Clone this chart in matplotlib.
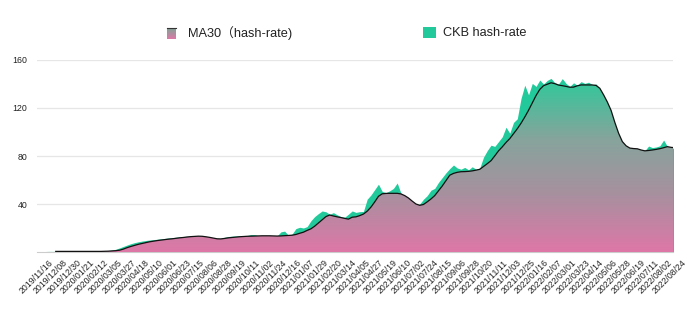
import numpy as np
import pandas as pd
import matplotlib
matplotlib.use("Agg")
import matplotlib.pyplot as plt
import matplotlib.dates as mdates
import matplotlib.transforms as mtransforms
from matplotlib.colors import LinearSegmentedColormap
from matplotlib.patches import Rectangle

plt.rcParams['font.family'] = ['Liberation Sans', 'Noto Sans CJK SC', 'DejaVu Sans']

# values, one sample every 6 days from 2019/11/16
dates = pd.date_range("2019-11-16", periods=171, freq="6D")

ckb_rate = [0.3, 0.4, 0.4, 0.5, 0.5, 0.5, 0.5, 0.6, 0.5, 0.5,
            0.6, 0.5, 0.5, 0.6, 0.5, 0.6, 0.6, 0.7, 0.9, 1.2,
            1.6, 2.3, 3.4, 4.6, 5.8, 6.9, 7.8, 8.5, 9.1, 9.6,
            10.0, 10.3, 10.6, 11.0, 11.3, 11.7, 11.9, 12.3, 12.6, 12.9,
            13.1, 13.3, 13.4, 13.3, 12.9, 12.3, 11.7, 11.0, 10.6, 11.4,
            12.3, 12.9, 13.2, 13.4, 13.6, 13.5, 13.7, 14.6, 14.5, 13.6,
            13.5, 13.4, 13.3, 13.2, 13.4, 16.8, 17.4, 13.9, 15.0, 19.5,
            20.6, 20.0, 21.2, 26.0, 29.5, 32.0, 34.2, 33.5, 31.5, 32.8,
            31.0, 29.5, 29.0, 31.5, 34.2, 33.0, 33.6, 33.8, 44.0, 47.5,
            52.0, 56.5, 50.5, 49.5, 51.0, 53.0, 57.5, 49.0, 46.5, 44.5,
            41.5, 39.0, 40.0, 44.0, 47.0, 51.5, 53.0, 58.0, 62.0, 66.0,
            69.5, 72.5, 70.0, 69.0, 70.5, 68.5, 71.0, 69.0, 70.0, 79.0,
            84.5, 89.0, 88.0, 92.0, 96.0, 104.0, 99.0, 108.0, 111.0, 128.0,
            139.0, 131.0, 140.5, 138.0, 143.3, 140.0, 143.0, 144.7, 141.0, 140.0,
            144.5, 140.5, 138.0, 141.0, 139.0, 142.0, 140.5, 141.5, 139.5, 140.0,
            136.0, 129.0, 120.0, 112.0, 103.0, 95.0, 90.0, 86.5, 85.5, 85.0,
            85.5, 84.0, 84.5, 88.3, 87.0, 87.5, 88.5, 93.3, 88.0, 86.5,
            86.5]

ma30 = [np.nan, np.nan, np.nan, np.nan, np.nan, 0.5, 0.5, 0.5, 0.5, 0.5,
        0.5, 0.5, 0.5, 0.5, 0.5, 0.5, 0.5, 0.5, 0.6, 0.7,
        0.9, 1.1, 1.5, 2.4, 3.6, 4.6, 5.5, 6.4, 7.1, 7.8,
        8.5, 9.0, 9.5, 9.9, 10.3, 10.7, 11.0, 11.4, 11.8, 12.1,
        12.5, 12.8, 13.0, 13.2, 13.1, 12.7, 12.2, 11.6, 11.0, 10.9,
        11.3, 11.8, 12.1, 12.4, 12.7, 12.9, 13.1, 13.2, 13.3, 13.4,
        13.5, 13.5, 13.5, 13.4, 13.3, 13.4, 13.6, 13.8, 14.0, 14.6,
        15.6, 16.5, 18.0, 19.3, 21.5, 24.2, 26.8, 29.5, 30.8, 30.0,
        29.3, 28.7, 28.0, 27.4, 29.0, 29.3, 30.3, 31.6, 34.0, 37.4,
        41.7, 46.4, 48.5, 48.8, 48.9, 48.9, 48.9, 48.4, 47.0, 45.0,
        42.4, 40.0, 38.9, 39.6, 41.8, 44.2, 47.0, 51.0, 55.0, 59.5,
        64.0, 65.5, 66.4, 66.9, 67.0, 67.2, 67.6, 68.2, 68.9, 71.2,
        73.6, 76.1, 80.1, 84.3, 87.6, 91.3, 94.5, 98.6, 102.7, 107.3,
        112.5, 118.1, 124.3, 130.4, 135.5, 138.6, 139.8, 141.0, 140.3, 139.1,
        138.6, 138.0, 137.3, 137.4, 138.5, 139.2, 139.2, 139.2, 139.2, 138.8,
        136.4, 131.0, 125.0, 118.0, 108.0, 99.0, 92.0, 88.5, 86.6, 86.2,
        86.0, 85.0, 84.3, 84.6, 85.0, 85.5, 86.1, 86.9, 87.8, 87.2,
        86.9]

tick_dates = pd.date_range("2019-11-16", "2022-08-24", freq="22D")
tick_labels = [d.strftime("%Y/%m/%d") for d in tick_dates]
y_ticks = [40, 80, 120, 160]

green = "#22c99a"
pink = "#de77a7"
top_green = "#34c79a"

fig = plt.figure(figsize=(6.9, 3.11), dpi=100)
ax = fig.add_axes([37 / 690, 59 / 311, 636 / 690, 192 / 311])

x = mdates.date2num(dates)
ma = np.array(ma30)
x0 = mdates.date2num(pd.Timestamp("2019-11-16"))
x1 = x0 + 1017

ax.fill_between(x, 0, ckb_rate, color=green, linewidth=0, zorder=2)

# gradient area under MA30
poly = ax.fill_between(x, 0, ma, facecolor="none", linewidth=0, zorder=3)
cmap = LinearSegmentedColormap.from_list("ma", [pink, "#a8909f", "#86a49c", top_green],
                                         N=256)
grad = np.linspace(0, 1, 256).reshape(-1, 1)
im = ax.imshow(grad, cmap=cmap, origin="lower", aspect="auto",
               extent=[x0, x1, 0, np.nanmax(ma)], zorder=3)
im.set_clip_path(poly.get_paths()[0], transform=ax.transData)
ax.plot(x, ma, color="#111111", linewidth=0.9, zorder=4)

ax.set_xlim(x0, x1)
ax.set_ylim(0, 160)
ax.set_yticks(y_ticks)
ax.set_yticklabels([str(v) for v in y_ticks])
ax.set_xticks(mdates.date2num(tick_dates))
ax.set_xticklabels(tick_labels, rotation=45, ha="right", va="center",
                   rotation_mode="anchor")
ax.tick_params(axis="x", length=0, pad=9, labelsize=6.3, colors="#222222")
ax.tick_params(axis="y", length=0, pad=7, labelsize=6.3, colors="#222222")
shift = mtransforms.ScaledTranslation(15 / 100, 3 / 100, fig.dpi_scale_trans)
for lab in ax.get_xticklabels():
    lab.set_transform(lab.get_transform() + shift)
ax.grid(axis="y", color="#e6e6e6", linewidth=0.9, zorder=0)
ax.set_axisbelow(True)
for s in ["top", "right", "left"]:
    ax.spines[s].set_visible(False)
ax.spines["bottom"].set_color("#cccccc")
ax.spines["bottom"].set_linewidth(0.8)

# legend
lax = fig.add_axes([167 / 690, 1 - 39 / 311, 9 / 690, 11 / 311])
lcmap = LinearSegmentedColormap.from_list("leg", [pink, "#7fa596"])
lax.imshow(grad, cmap=lcmap, origin="lower", aspect="auto")
lax.set_xticks([])
lax.set_yticks([])
for s in lax.spines.values():
    s.set_visible(False)
lax.spines["top"].set_visible(True)
lax.spines["top"].set_color("#333333")
lax.spines["top"].set_linewidth(0.8)

fig.patches.append(Rectangle((423 / 690, 1 - 38 / 311), 13 / 690, 11 / 311,
                             transform=fig.transFigure, facecolor=green,
                             edgecolor="none"))
fig.text(188 / 690, 1 - 33 / 311, "MA30（hash-rate)", fontsize=9.2,
         va="center", ha="left", color="#222222")
fig.text(443 / 690, 1 - 33 / 311, "CKB hash-rate", fontsize=9.2,
         va="center", ha="left", color="#222222")

fig.savefig("out.png", dpi=100)
